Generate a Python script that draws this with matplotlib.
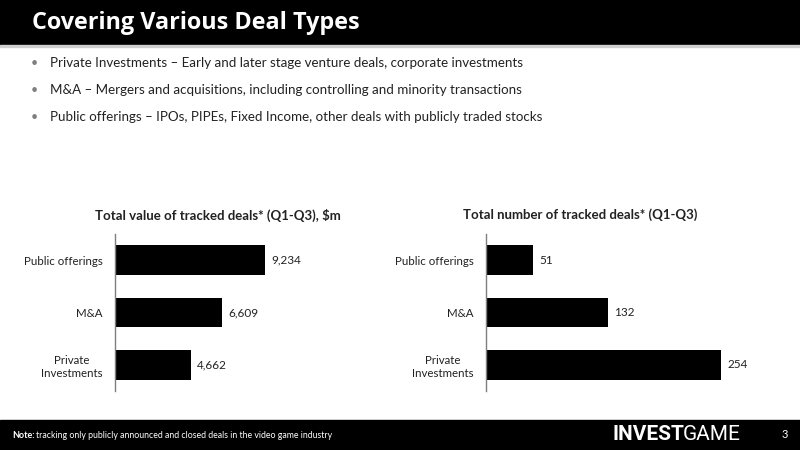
import matplotlib.pyplot as plt
from matplotlib.patches import Rectangle

plt.rcParams['font.family'] = ['Lato', 'DejaVu Sans']

categories = ["Private\nInvestments", "M&A", "Public offerings"]
deal_value = [4662, 6609, 9234]
deal_count = [254, 132, 51]

bullets = [
    "Private Investments \u2013 Early and later stage venture deals, corporate investments",
    "M&A \u2013 Mergers and acquisitions, including controlling and minority transactions",
    "Public offerings \u2013 IPOs, PIPEs, Fixed Income, other deals with publicly traded stocks",
]

W, H = 800, 450
fig = plt.figure(figsize=(8, 4.5), dpi=100)


def fx(px):
    return px / W


def fy(py):
    return 1 - py / H


# header and footer bands
fig.patches.append(Rectangle((0, fy(45)), 1, 45 / H, transform=fig.transFigure,
                             color="black", zorder=0))
fig.patches.append(Rectangle((0, fy(47)), 1, 2 / H, transform=fig.transFigure,
                             color="#cfcfcf", zorder=0))
fig.patches.append(Rectangle((0, 0), 1, 30 / H, transform=fig.transFigure,
                             color="black", zorder=0))

fig.text(fx(32), fy(23), "Covering Various Deal Types", color="white",
         fontsize=16.8, fontweight="bold", va="center", family=["Open Sans", "DejaVu Sans"])

for i, b in enumerate(bullets):
    y = fy(63 + 27 * i)
    fig.text(fx(31), y, "\u2022", color="#7f7f7f", fontsize=9, va="center")
    fig.text(fx(50), y, b, color="#222222", fontsize=9.6, va="center")

fig.text(fx(12), fy(436), "Note:", color="white", fontsize=6.5, fontweight="bold", va="center")
fig.text(fx(36), fy(436), "tracking only publicly announced and closed deals in the video game industry",
         color="white", fontsize=6.3, va="center")
fig.text(fx(612), fy(435), "INVEST", color="white", fontsize=15, fontweight="bold",
         va="center", family=["Roboto", "DejaVu Sans"])
fig.text(fx(683), fy(435), "GAME", color="white", fontsize=15,
         va="center", family=["Roboto", "DejaVu Sans"])
fig.text(fx(782), fy(434), "3", color="white", fontsize=8, va="center")


def bar_panel(left, width_px, scale, values, title, title_x, fmt):
    top, bottom = 233.75, 391.25
    ax = fig.add_axes([fx(left), fy(bottom), width_px / W, (bottom - top) / H])
    ypos = range(len(values))
    ax.barh(ypos, values, height=0.57, color="black")
    ax.set_xlim(0, width_px / scale)
    ax.set_ylim(-0.5, 2.5)
    ax.set_yticks(list(ypos))
    ax.set_yticklabels(categories, fontsize=8.3, color="#222222")
    ax.tick_params(axis="y", length=0, pad=9)
    ax.set_xticks([])
    for s in ["top", "right", "bottom"]:
        ax.spines[s].set_visible(False)
    ax.spines["left"].set_color("#7f7f7f")
    ax.spines["left"].set_linewidth(1)
    for y, v in zip(ypos, values):
        ax.text(v + 6 / scale, y, fmt(v), va="center", ha="left", fontsize=8.5, color="#222222")
    fig.text(fx(title_x), fy(215), title, ha="center", va="center", fontsize=9.5,
             fontweight="bold", color="#222222")
    for lab in ax.get_yticklabels():
        lab.set_multialignment("center")
    return ax


bar_panel(115, 200, 150 / 9234, deal_value, "Total value of tracked deals* (Q1-Q3), $m", 218,
          lambda v: f"{v:,}")
bar_panel(486, 260, 235 / 254, deal_count, "Total number of tracked deals* (Q1-Q3)", 580,
          lambda v: f"{v}")

fig.savefig("out.png", dpi=100)
